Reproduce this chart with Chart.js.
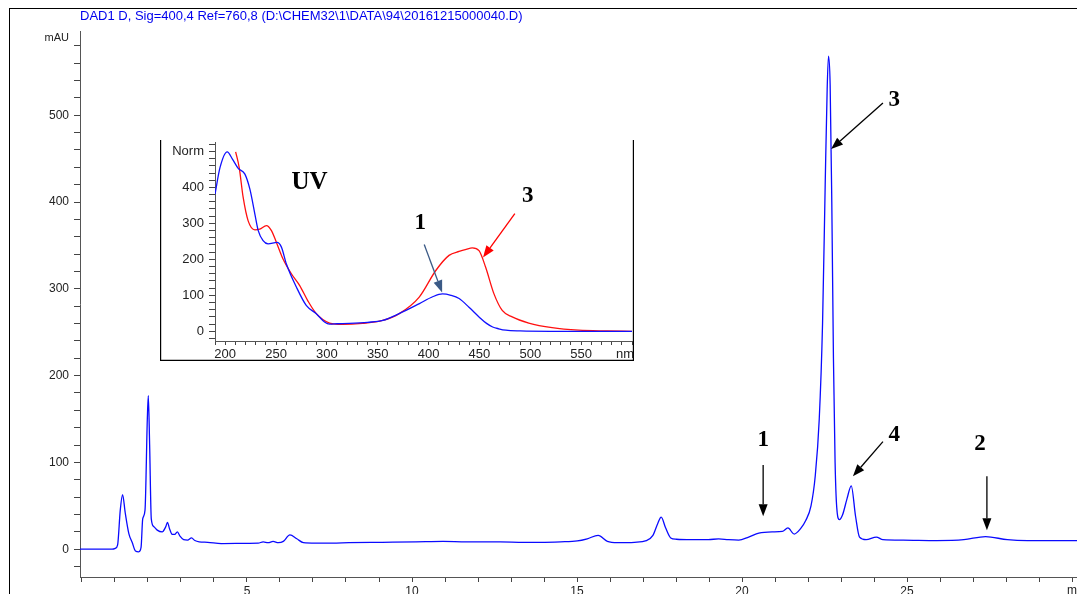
<!DOCTYPE html>
<html><head><meta charset="utf-8">
<script src="https://cdn.jsdelivr.net/npm/chart.js@4.4.1/dist/chart.umd.min.js"></script>
<style>
html,body{margin:0;padding:0;background:#fff;}
#wrap{position:relative;width:1077px;height:594px;overflow:hidden;background:#fff;}
#frame{position:absolute;left:9px;top:8px;width:1100px;height:600px;border-left:1px solid #000;border-top:1px solid #000;}
#main{position:absolute;left:0;top:0;}
#inset{position:absolute;left:160px;top:130px;background:#fff;}
</style></head>
<body><div id="wrap"><div id="frame"></div><canvas id="main" width="1077" height="594"></canvas><canvas id="inset" width="474" height="231"></canvas></div>
<script>
// ---- Chromatogram (retention time, min / absorbance, mAU) ----
const chromTime = [-0.06, 0.91, 1.01, 1.08, 1.16, 1.23, 1.31, 1.42, 1.52, 1.62, 1.72, 1.79, 1.84, 1.91, 1.98, 2.01, 2.05, 2.10, 2.18, 2.28, 2.43, 2.54, 2.59, 2.65, 2.74, 2.81, 2.89, 2.97, 3.08, 3.20, 3.32, 3.42, 3.55, 3.81, 4.22, 5.03, 5.34, 5.49, 5.64, 5.79, 5.95, 6.10, 6.30, 6.51, 6.71, 7.07, 7.58, 8.09, 9.10, 10.12, 10.94, 11.65, 12.67, 13.38, 13.89, 14.50, 15.01, 15.31, 15.64, 15.92, 16.23, 16.74, 17.10, 17.30, 17.45, 17.55, 17.68, 17.84, 18.01, 18.47, 18.98, 19.29, 19.59, 19.90, 20.20, 20.51, 20.91, 21.22, 21.39, 21.58, 21.78, 21.93, 22.09, 22.22, 22.34, 22.44, 22.52, 22.58, 22.62, 22.67, 22.72, 22.77, 22.82, 22.87, 22.95, 23.05, 23.18, 23.31, 23.44, 23.56, 23.76, 24.07, 24.27, 24.88, 25.90, 26.72, 27.38, 28.04, 28.65, 29.47, 30.18];
const chromAbs = [0, 0, 1, 5, 45, 63, 42, 18, 8, -2, -3, 2, 35, 45, 150, 177, 120, 35, 26, 22, 20, 26, 31, 24, 17, 17, 20, 15, 11, 10.5, 13, 10, 8.5, 8, 6.5, 6.8, 7, 8.5, 7.5, 9, 7.5, 9, 16.5, 12, 7.5, 7, 7, 7.5, 8, 8.5, 9, 8.5, 8.5, 8, 8, 8.5, 9.5, 12, 16, 9, 7.5, 8, 10, 16, 30, 37, 25, 13, 11.5, 11, 11, 12, 11, 10.5, 14, 18.5, 20, 20.5, 24.5, 17.5, 24, 33, 50, 85, 150, 260, 420, 530, 568, 535, 400, 220, 100, 48, 34, 40, 58, 73, 38, 14, 11, 14, 11, 10.5, 10, 11, 14.5, 11, 10, 10, 10];

// ---- UV spectra (wavelength, nm / normalised absorbance) ----
const uv1Nm  = [190, 194.9, 202, 207.3, 212.8, 219.4, 224.3, 229.2, 232.5, 237.3, 242.2, 251, 255.3, 260.2, 270, 279.7, 289.6, 297.7, 302.6, 310, 322, 340, 355, 371, 391, 404, 413.6, 422, 430, 440, 449.6, 457, 463, 469, 476, 490, 520, 560, 600];
const uv1Val = [381, 455, 499, 478, 453, 437, 395, 326, 280, 252, 243, 247, 234, 187, 123, 72, 49, 26, 20, 21, 22, 25, 30, 49, 77, 96, 104, 100, 91, 66, 40, 22, 12, 7, 3, 1, 0, 0, 0];
const uv3Nm  = [210.3, 213.8, 217.7, 222.6, 229.2, 234, 240.6, 245.5, 250.4, 256.9, 265.1, 273.3, 281.4, 289.6, 302.6, 315.6, 335, 354.9, 371.2, 390.8, 407.1, 420.1, 430, 437, 443, 449.6, 456.1, 464.3, 472.4, 482.2, 498.5, 521.4, 547.5, 575, 600];
const uv3Val = [499, 455, 372, 307, 282, 284, 294, 280, 247, 201, 160, 127, 84, 49, 23, 19, 22, 30, 49, 95, 169, 211, 222, 228, 232, 224, 178, 104, 58, 40, 23, 10, 3, 1, 0];

// ---- Tick label definitions ----
const mainXLabelStep = 5;
const mainYLabelStep = 100;
const uvXLabelStep = 50;
const uvTopLabel = 'Norm';
const titleText = 'DAD1 D, Sig=400,4 Ref=760,8 (D:\\CHEM32\\1\\DATA\\94\\20161215000040.D)';

// ---- Peak annotations (in data units) ----
const mainNotes = [
  {text:'3', t:24.61, v:517, from:[24.27,514], to:[22.70,461]},
  {text:'4', t:24.61, v:132, from:[24.27,124], to:[23.36,84]},
  {text:'1', t:20.64, v:126, from:[20.64,97], to:[20.64,38]},
  {text:'2', t:27.21, v:121, from:[27.42,84], to:[27.42,22]}
];
const uvNotes = [
  {text:'UV', t:283, v:413, size:25},
  {text:'1', t:391.8, v:302, from:[395.7,241], to:[413.3,108], color:'#3b5a86'},
  {text:'3', t:497.5, v:377, from:[484.8,327], to:[453.5,205], color:'#ff0000'}
];

Chart.defaults.font.family = "'Liberation Sans', Arial, sans-serif";

function drawArrow(ctx, x1, y1, x2, y2, color, lw, hl, hw) {
  const a = Math.atan2(y2 - y1, x2 - x1);
  const bx = x2 - hl * Math.cos(a), by = y2 - hl * Math.sin(a);
  ctx.save();
  ctx.strokeStyle = color; ctx.fillStyle = color; ctx.lineWidth = lw;
  ctx.beginPath(); ctx.moveTo(x1, y1); ctx.lineTo(bx, by); ctx.stroke();
  ctx.beginPath();
  ctx.moveTo(x2, y2);
  ctx.lineTo(bx + hw / 2 * Math.sin(a), by - hw / 2 * Math.cos(a));
  ctx.lineTo(bx - hw / 2 * Math.sin(a), by + hw / 2 * Math.cos(a));
  ctx.closePath(); ctx.fill();
  ctx.restore();
}

function drawNotes(chart, notes, defSize) {
  const ctx = chart.ctx, xs = chart.scales.x, ys = chart.scales.y;
  notes.forEach(n => {
    ctx.save();
    ctx.fillStyle = '#000';
    ctx.font = 'bold ' + (n.size || defSize) + 'px "Liberation Serif", "Times New Roman", serif';
    ctx.textAlign = 'center'; ctx.textBaseline = 'middle';
    ctx.fillText(n.text, xs.getPixelForValue(n.t), ys.getPixelForValue(n.v));
    ctx.restore();
    if (n.from) {
      drawArrow(ctx, xs.getPixelForValue(n.from[0]), ys.getPixelForValue(n.from[1]),
        xs.getPixelForValue(n.to[0]), ys.getPixelForValue(n.to[1]), n.color || '#000', 1.3, 12, 9);
    }
  });
}

const mainDecor = {
  id: 'mainDecor',
  afterDraw(chart) {
    const ctx = chart.ctx;
    ctx.save();
    ctx.fillStyle = '#0000ee';
    ctx.font = '13px "Liberation Sans", Arial, sans-serif';
    ctx.textBaseline = 'middle'; ctx.textAlign = 'left';
    ctx.fillText(titleText, 80, 16);
    ctx.fillStyle = '#222';
    ctx.font = '11px "Liberation Sans", Arial, sans-serif';
    ctx.textAlign = 'right';
    ctx.fillText('mAU', 69, 38);
    ctx.textAlign = 'left';
    ctx.font = '12px "Liberation Sans", Arial, sans-serif';
    ctx.fillText('min', 1067, 591);
    ctx.restore();
    drawNotes(chart, mainNotes, 23);
  }
};

new Chart(document.getElementById('main'), {
  type: 'scatter',
  data: { datasets: [{
    data: chromTime.map((t, i) => ({x: t, y: chromAbs[i]})),
    showLine: true, pointRadius: 0, borderColor: '#0a0aff', borderWidth: 1.3,
    cubicInterpolationMode: 'monotone', tension: 0
  }]},
  options: {
    animation: false, responsive: false, events: [],
    layout: {padding: {top: 31, left: 0, right: 0, bottom: 0}},
    plugins: {legend: {display: false}, tooltip: {enabled: false}},
    scales: {
      x: {
        type: 'linear', min: -0.06, max: 30.15,
        afterFit(s) { s.height = 17; },
        ticks: {stepSize: 1, autoSkip: false, includeBounds: false, maxRotation: 0, padding: 2,
          color: '#222', font: {size: 12},
          callback: v => (v > 0 && v < 30 && v % mainXLabelStep === 0) ? String(v) : ''},
        grid: {drawOnChartArea: false, drawTicks: true, tickLength: 5, color: '#444'},
        border: {color: '#555', width: 1}
      },
      y: {
        min: -32, max: 597,
        afterFit(s) { s.width = 80; },
        ticks: {stepSize: 20, autoSkip: false, includeBounds: false, padding: 5,
          color: '#222', font: {size: 12},
          callback: v => (v % mainYLabelStep === 0) ? String(v) : ''},
        grid: {drawOnChartArea: false, drawTicks: true, tickLength: 6, color: '#444'},
        border: {color: '#555', width: 1}
      }
    }
  },
  plugins: [mainDecor]
});

const insetDecor = {
  id: 'insetDecor',
  beforeDraw(chart) {
    const ctx = chart.ctx;
    ctx.save(); ctx.fillStyle = '#fff'; ctx.fillRect(0, 0, chart.width, chart.height); ctx.restore();
  },
  afterDraw(chart) {
    const ctx = chart.ctx;
    ctx.save();
    ctx.strokeStyle = '#000'; ctx.lineWidth = 1.2;
    ctx.beginPath();
    ctx.moveTo(0.6, 10); ctx.lineTo(0.6, 230.4); ctx.lineTo(473.4, 230.4); ctx.lineTo(473.4, 10);
    ctx.stroke();
    ctx.fillStyle = '#222';
    ctx.font = '13px "Liberation Sans", Arial, sans-serif';
    ctx.textAlign = 'center'; ctx.textBaseline = 'top';
    ctx.fillText('nm', 465, chart.scales.x.top + 7);
    ctx.restore();
    drawNotes(chart, uvNotes, 23);
  }
};

new Chart(document.getElementById('inset'), {
  type: 'scatter',
  data: { datasets: [
    {data: uv1Nm.map((x, i) => ({x, y: uv1Val[i]})), showLine: true, pointRadius: 0,
     borderColor: '#1010ff', borderWidth: 1.3, cubicInterpolationMode: 'monotone', tension: 0},
    {data: uv3Nm.map((x, i) => ({x, y: uv3Val[i]})), showLine: true, pointRadius: 0,
     borderColor: '#ff1010', borderWidth: 1.3, cubicInterpolationMode: 'monotone', tension: 0}
  ]},
  options: {
    animation: false, responsive: false, events: [],
    layout: {padding: {top: 12, left: 0, right: 1, bottom: 0}},
    plugins: {legend: {display: false}, tooltip: {enabled: false}},
    scales: {
      x: {
        type: 'linear', min: 190, max: 600,
        afterFit(s) { s.height = 20; },
        ticks: {stepSize: 10, autoSkip: false, includeBounds: false, maxRotation: 0, padding: 2,
          color: '#222', font: {size: 13},
          callback: v => (v % uvXLabelStep === 0 && v < 600) ? String(v) : ''},
        grid: {drawOnChartArea: false, drawTicks: true, tickLength: 4, color: '#444'},
        border: {color: '#555', width: 1}
      },
      y: {
        min: -27, max: 524,
        afterFit(s) { s.width = 55; },
        ticks: {stepSize: 20, autoSkip: false, includeBounds: false, padding: 5,
          color: '#222', font: {size: 13},
          callback: v => v === 500 ? uvTopLabel : (v % 100 === 0 ? String(v) : '')},
        grid: {drawOnChartArea: false, drawTicks: true, tickLength: 6, color: '#444'},
        border: {color: '#555', width: 1}
      }
    }
  },
  plugins: [insetDecor]
});
</script></body></html>
